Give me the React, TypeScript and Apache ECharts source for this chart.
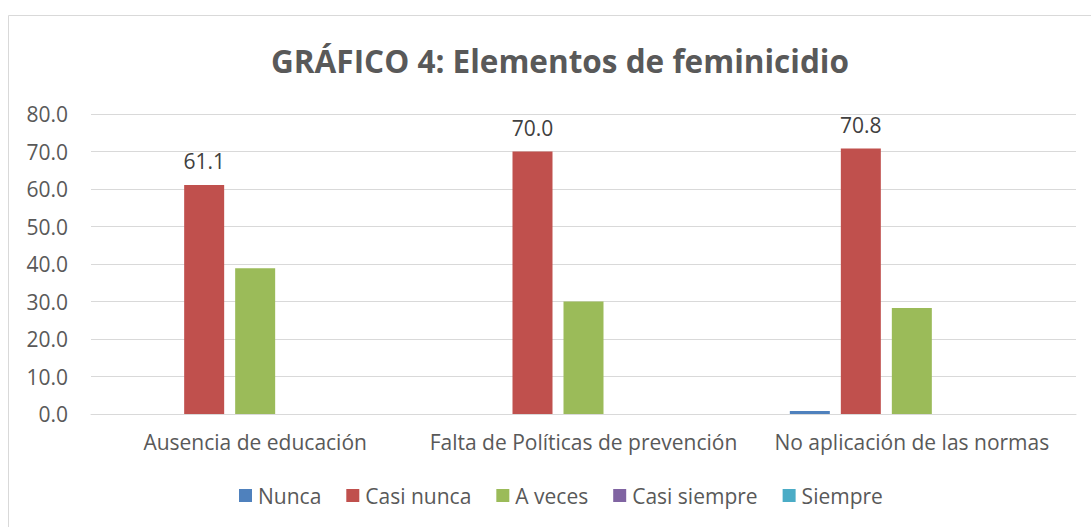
import React, { useEffect, useRef } from "react";
import * as echarts from "echarts";

const categories = ["Ausencia de educación", "Falta de Políticas de prevención", "No aplicación de las normas"];
const seriesNames = ["Nunca", "Casi nunca", "A veces", "Casi siempre", "Siempre"];
const nunca = [0, 0, 0.8];
const casiNunca = [61.1, 70.0, 70.8];
const aVeces = [38.9, 30.0, 28.3];
const casiSiempre = [0, 0, 0];
const siempre = [0, 0, 0];
const colors = ["#4F81BD", "#C0504D", "#9BBB59", "#8064A2", "#4BACC6"];

const FONT = "'Open Sans', sans-serif";

export default function App() {
  const ref = useRef<HTMLDivElement>(null);
  useEffect(() => {
    if (!ref.current) return;
    const chart = echarts.init(ref.current, null, { renderer: "svg" });
    const values = [nunca, casiNunca, aVeces, casiSiempre, siempre];
    chart.setOption({
      animation: false,
      backgroundColor: "#ffffff",
      textStyle: { fontFamily: FONT },
      title: {
        text: "GRÁFICO 4: Elementos de feminicidio",
        left: 266,
        top: 39,
        textStyle: { fontFamily: FONT, fontSize: 31.5, fontWeight: "bold", color: "#595959" },
      },
      graphic: [
        {
          type: "rect",
          shape: { x: 8.5, y: 15.5, width: 1200, height: 600 },
          style: { fill: "none", stroke: "#d9d9d9", lineWidth: 1 },
          silent: true,
        },
      ],
      legend: {
        bottom: 16,
        left: 234,
        itemWidth: 13,
        itemHeight: 13,
        itemGap: 25,
        icon: "rect",
        textStyle: { fontFamily: FONT, fontSize: 21, color: "#595959", padding: [0, 0, 0, 1] },
        data: seriesNames,
      },
      grid: { left: 91, right: 15, top: 114, bottom: 113, containLabel: false },
      xAxis: {
        type: "category",
        data: categories,
        axisLine: { show: true, lineStyle: { color: "#d9d9d9", width: 1 } },
        axisTick: { show: false },
        axisLabel: { fontFamily: FONT, fontSize: 21, color: "#595959", margin: 17, interval: 0 },
      },
      yAxis: {
        type: "value",
        min: 0,
        max: 80,
        interval: 10,
        axisLine: { show: false },
        axisTick: { show: false },
        splitLine: { lineStyle: { color: "#d9d9d9", width: 1 } },
        axisLabel: {
          fontFamily: FONT,
          fontSize: 21,
          color: "#595959",
          margin: 23,
          formatter: (v: number) => v.toFixed(1),
        },
      },
      series: seriesNames.map((name, i) => ({
        name,
        type: "bar",
        data: values[i],
        barWidth: 40,
        barGap: "27.5%",
        itemStyle: { color: colors[i] },
        label:
          i === 1
            ? {
                show: true,
                position: "top",
                distance: 13,
                fontFamily: FONT,
                fontSize: 21,
                color: "#404040",
                formatter: (p: any) => Number(p.value).toFixed(1),
              }
            : { show: false },
      })),
    });
    return () => chart.dispose();
  }, []);
  return <div ref={ref} style={{ position: "fixed", left: 0, top: 0, width: 1091, height: 527 }} />;
}
